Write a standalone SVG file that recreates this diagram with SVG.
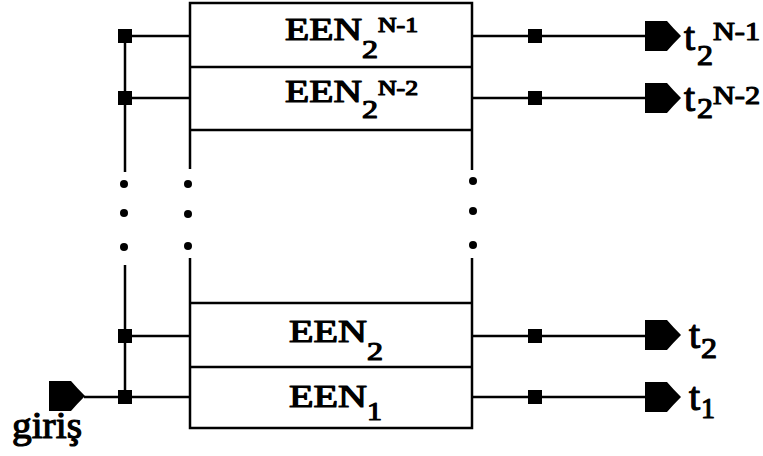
<svg xmlns="http://www.w3.org/2000/svg" xmlns:xlink="http://www.w3.org/1999/xlink" width="763" height="456" viewBox="0 0 763 456">
<style>
.ln{stroke:#000;stroke-width:2.5;fill:none}
.t{font-family:"Liberation Serif","Times New Roman",Times,serif;font-weight:normal;fill:#000;stroke:#000;stroke-width:1.2;stroke-linejoin:round}
.dot{fill:#000}
</style>
<defs>
<path id="pent" d="M0,-15 H22 Q28,-8 36,0 Q28,8 22,15 H0 Z" fill="#000"/>
<rect id="sq" x="-7" y="-7" width="14" height="14" fill="#000"/>
</defs>
<rect width="763" height="456" fill="#fff"/>

<g id="connectors">
  <line class="ln" x1="125" y1="36" x2="125" y2="172"/>
  <line class="ln" x1="125" y1="265" x2="125" y2="397"/>
  <line class="ln" x1="125" y1="36" x2="190" y2="36"/>
  <line class="ln" x1="125" y1="98" x2="190" y2="98"/>
  <line class="ln" x1="125" y1="336" x2="190" y2="336"/>
  <line class="ln" x1="84" y1="397" x2="190" y2="397"/>
  <line class="ln" x1="472" y1="36" x2="646" y2="36"/>
  <line class="ln" x1="472" y1="98" x2="646" y2="98"/>
  <line class="ln" x1="472" y1="336" x2="646" y2="336"/>
  <line class="ln" x1="472" y1="397" x2="646" y2="397"/>
  <use xlink:href="#sq" x="125" y="36"/>
  <use xlink:href="#sq" x="125" y="98"/>
  <use xlink:href="#sq" x="125" y="336"/>
  <use xlink:href="#sq" x="125" y="397"/>
  <use xlink:href="#sq" x="535" y="36"/>
  <use xlink:href="#sq" x="535" y="98"/>
  <use xlink:href="#sq" x="535" y="336"/>
  <use xlink:href="#sq" x="535" y="397"/>
  <circle class="dot" cx="124" cy="184" r="4"/>
  <circle class="dot" cx="124" cy="213" r="4"/>
  <circle class="dot" cx="124" cy="247" r="4"/>
  <circle class="dot" cx="188" cy="184" r="4"/>
  <circle class="dot" cx="188" cy="214" r="4"/>
  <circle class="dot" cx="188" cy="246" r="4"/>
  <circle class="dot" cx="473" cy="181" r="4"/>
  <circle class="dot" cx="473" cy="211" r="4"/>
  <circle class="dot" cx="473" cy="245" r="4"/>
</g>

<g id="stack-top">
  <path class="ln" d="M190,169 V3 H472 V170"/>
  <line class="ln" x1="190" y1="130" x2="472" y2="130"/>
</g>
<g id="een-n1">
  <line class="ln" x1="190" y1="67" x2="472" y2="67"/>
  <text class="t" x="285" y="40" font-size="31" textLength="77" lengthAdjust="spacingAndGlyphs">EEN</text>
  <text class="t" x="362" y="58" font-size="26" textLength="16" lengthAdjust="spacingAndGlyphs">2</text>
  <text class="t" x="378" y="32" font-size="21" textLength="40" lengthAdjust="spacingAndGlyphs">N-1</text>
</g>
<g id="een-n2">
  <text class="t" x="285" y="102" font-size="31" textLength="77" lengthAdjust="spacingAndGlyphs">EEN</text>
  <text class="t" x="362" y="118" font-size="26" textLength="16" lengthAdjust="spacingAndGlyphs">2</text>
  <text class="t" x="378" y="95" font-size="21" textLength="40" lengthAdjust="spacingAndGlyphs">N-2</text>
</g>
<g id="stack-bottom">
  <path class="ln" d="M190,258 V428 H472 V258"/>
  <line class="ln" x1="190" y1="303" x2="472" y2="303"/>
</g>
<g id="een2">
  <line class="ln" x1="190" y1="367" x2="472" y2="367"/>
  <text class="t" x="289" y="342" font-size="31" textLength="78" lengthAdjust="spacingAndGlyphs">EEN</text>
  <text class="t" x="367" y="360" font-size="26" textLength="16" lengthAdjust="spacingAndGlyphs">2</text>
</g>
<g id="een1">
  <text class="t" x="289" y="407" font-size="31" textLength="78" lengthAdjust="spacingAndGlyphs">EEN</text>
  <text class="t" x="367" y="420" font-size="26" textLength="15" lengthAdjust="spacingAndGlyphs">1</text>
</g>

<g id="input">
  <use xlink:href="#pent" x="49" y="396"/>
  <text class="t" x="12" y="438" font-size="38" textLength="70" lengthAdjust="spacingAndGlyphs">giriş</text>
</g>

<g id="out-n1">
  <use xlink:href="#pent" x="645" y="36"/>
  <text class="t" x="684" y="50" font-size="40">t</text>
  <text class="t" x="697" y="65" font-size="29" textLength="16" lengthAdjust="spacingAndGlyphs">2</text>
  <text class="t" x="713" y="40" font-size="26" textLength="47" lengthAdjust="spacingAndGlyphs">N-1</text>
</g>
<g id="out-n2">
  <use xlink:href="#pent" x="645" y="98"/>
  <text class="t" x="684" y="111" font-size="40">t</text>
  <text class="t" x="697" y="118" font-size="29" textLength="16" lengthAdjust="spacingAndGlyphs">2</text>
  <text class="t" x="713" y="104" font-size="26" textLength="47" lengthAdjust="spacingAndGlyphs">N-2</text>
</g>
<g id="out-2">
  <use xlink:href="#pent" x="645" y="335"/>
  <text class="t" x="689" y="348" font-size="40">t</text>
  <text class="t" x="701" y="358" font-size="29" textLength="16" lengthAdjust="spacingAndGlyphs">2</text>
</g>
<g id="out-1">
  <use xlink:href="#pent" x="645" y="397"/>
  <text class="t" x="689" y="410" font-size="40">t</text>
  <text class="t" x="701" y="418" font-size="29" textLength="14" lengthAdjust="spacingAndGlyphs">1</text>
</g>
</svg>
